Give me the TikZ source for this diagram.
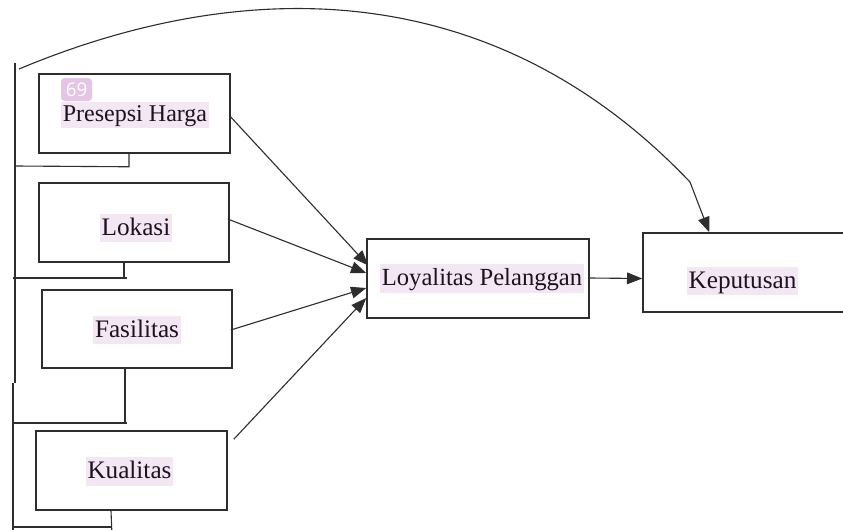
\documentclass[tikz,border=0pt]{standalone}
\usepackage{fontspec}
\setmainfont{Liberation Serif}
\newfontfamily\badgefont{Open Sans}
\usetikzlibrary{arrows.meta}
\definecolor{hl}{HTML}{F3E7F4}
\definecolor{badge}{HTML}{E3C6E4}
\definecolor{ln}{HTML}{2E2E2E}
\definecolor{tx}{HTML}{1E1222}
\tikzset{
  box/.style={draw=ln, line width=1.3pt, inner sep=0pt},
  lbl/.style={fill=hl, text=tx, inner xsep=1.5pt, inner ysep=1pt, text height=17pt, text depth=5pt, font=\fontsize{21.5pt}{24pt}\selectfont},
  conn/.style={draw=ln, line width=0.95pt},
  arr/.style={conn, -{Triangle[length=13pt,width=10pt]}},
}
\begin{document}
\begin{tikzpicture}[x=0.03cm,y=-0.03cm]
\useasboundingbox (0,0) rectangle (843,529);
\clip (0,0) rectangle (843,529);
% boxes
\node[box, minimum width=5.73cm, minimum height=2.37cm] (ph) at (134.5,113.5) {};
\node[box, minimum width=5.70cm, minimum height=2.37cm] (lk) at (134,222.5) {};
\node[box, minimum width=5.70cm, minimum height=2.34cm] (fs) at (137,329) {};
\node[box, minimum width=5.73cm, minimum height=2.37cm] (kq) at (131.5,470.5) {};
\node[box, minimum width=6.66cm, minimum height=2.37cm] (ly) at (478,278.5) {};
\node[box, minimum width=6.51cm, minimum height=2.37cm] (kp) at (751.5,272.5) {};
% labels
\node[lbl, font=\fontsize{20.5pt}{24pt}\selectfont, text depth=4.5pt, text height=15.5pt] (tph) at (135,115) {Presepsi Harga};
\node[lbl] (tlk) at (136,228) {Lokasi};
\node[lbl] (tfs) at (137,330) {Fasilitas};
\node[lbl] (tkq) at (129.5,471.5) {Kualitas};
\node[lbl, font=\fontsize{21pt}{24pt}\selectfont] (tly) at (482,278.5) {Loyalitas Pelanggan};
\node[lbl] (tkp) at (742.5,281) {Keputusan};
% badge
\node[fill=badge, rounded corners=3pt, text=white, inner sep=0pt, minimum width=0.93cm, minimum height=0.69cm,
      font=\badgefont\fontsize{16pt}{16pt}\selectfont] (badge) at (76.5,89.5) {69};
% left bracket lines
\coordinate (v1) at (15,63);
\coordinate (v2) at (15,383);
\coordinate (v3) at (13,383);
\coordinate (v4) at (13,535);
\draw[conn] (v1) -- (v2);
\draw[conn] (v3) -- (v4);
\draw[conn] ([shift={(-5.5,0)}]ph.south) -- ++(0,13) -- (15,166);
\draw[conn] ([shift={(-10,0)}]lk.south) -- ++(0,16);
\draw[conn] (12.7,278) -- (127,278);
\draw[conn] ([shift={(-12,0)}]fs.south) -- ++(0,53);
\draw[conn] (13,423) -- (127,423);
\draw[conn] ([shift={(-20.5,0)}]kq.south) -- ++(1,25);
\draw[conn] (13,527) -- (111.3,527);
% arrows into Loyalitas
\draw[arr] ([shift={(0,3.5)}]ph.east) -- ([shift={(2,-13)}]ly.west);
\draw[arr] ([shift={(-2,-3.5)}]lk.east) -- ([shift={(0,-5.5)}]ly.west);
\draw[arr] ([shift={(-2,1)}]fs.east) -- ([shift={(0,9.5)}]ly.west);
\draw[arr] ([shift={(6,9)}]kq.north east) -- ([shift={(0,19.5)}]ly.west);
% Loyalitas -> Keputusan
\draw[arr] ([shift={(0,-0.5)}]ly.east) -- (ly.east -| kp.west);
% curve
\coordinate (cs) at (19,69);
\coordinate (kink) at (690,182);
\draw[arr] (cs) .. controls (239,-23) and (490,-28) .. (kink) -- ([shift={(67,0)}]kp.north west);
\end{tikzpicture}
\end{document}
